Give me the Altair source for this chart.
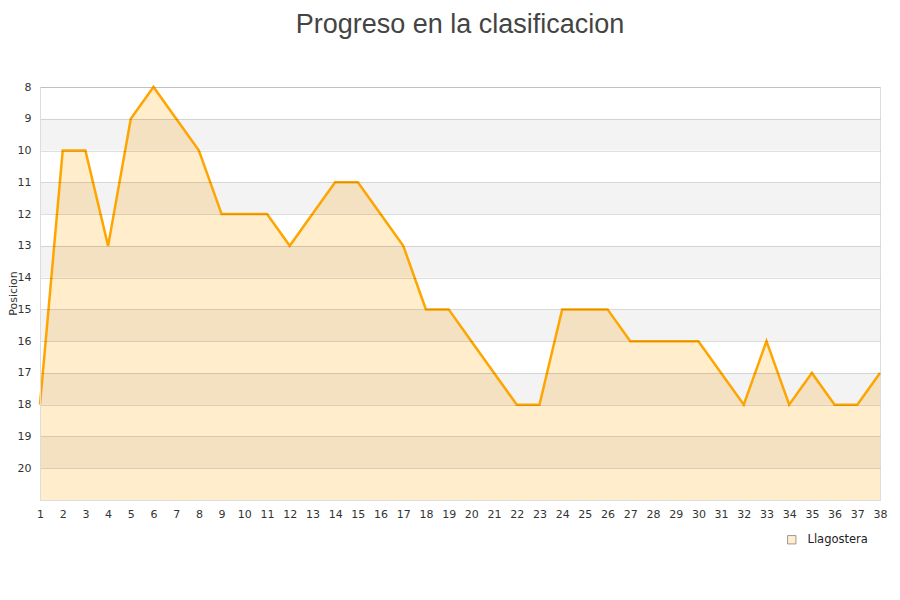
import altair as alt
import pandas as pd

jornadas = list(range(1, 39))
posiciones = [18, 10, 10, 13, 9, 8, 9, 10, 12, 12, 12, 13, 12, 11, 11, 12, 13, 15, 15, 16,
              17, 18, 18, 15, 15, 15, 16, 16, 16, 16, 17, 18, 16, 18, 17, 18, 18, 17]
equipo = "Llagostera"
band_starts = [9, 11, 13, 15, 17, 19]
y_ticks = list(range(8, 21))

df = pd.DataFrame({"Jornada": jornadas, "Posicion": posiciones, "Equipo": [equipo] * len(jornadas)})
bands = pd.DataFrame({"y1": band_starts, "y2": [b + 1 for b in band_starts]})

xscale = alt.Scale(domain=[1, 38], nice=False, zero=False)
yscale = alt.Scale(domain=[8, 21], reverse=True, nice=False, zero=False)

xaxis = alt.Axis(values=jornadas, title=None, grid=False, ticks=False, labelFontSize=11,
                 labelColor="#333", labelFont="DejaVu Sans", domainColor="#dddddd",
                 labelPadding=8, labelFlush=False, labelOverlap=False)
yaxis = alt.Axis(values=y_ticks, title="Posicion", grid=True, gridColor="#000000", gridOpacity=0.13,
                 ticks=False, labelFontSize=11, labelColor="#333", labelFont="DejaVu Sans",
                 domainColor="#dddddd", labelPadding=9, labelOverlap=False,
                 titleFontSize=11, titleColor="#333",
                 titleFont="DejaVu Sans", titleFontWeight="normal", titleX=-22, titleY=206,
                 zindex=1)

X = alt.X("Jornada:Q", scale=xscale, axis=xaxis)
Y = alt.Y("Posicion:Q", scale=yscale, axis=yaxis)

area = alt.Chart(df).mark_area(opacity=1, interpolate="linear").encode(
    x=X,
    y=Y,
    y2=alt.datum(21),
    fill=alt.Fill("Equipo:N", scale=alt.Scale(range=["#FFEDCC"]),
                  legend=alt.Legend(title=None, orient="none", legendX=746, legendY=447,
                                    symbolType="square", symbolSize=70, labelOffset=10,
                                    symbolStrokeColor="#999999", symbolStrokeWidth=1,
                                    labelFontSize=11.5, labelColor="#222", labelFont="DejaVu Sans")),
)

band = alt.Chart(bands).mark_rect(color="#000000", opacity=0.048).encode(
    x=alt.value(0), x2=alt.value(840),
    y=alt.Y("y1:Q", scale=yscale, axis=yaxis),
    y2="y2:Q",
)

line = alt.Chart(df).mark_line(color="#FFA500", strokeWidth=2.5).encode(
    x=X,
    y=Y,
)

chart = alt.layer(area, band, line).properties(
    width=840, height=413,
    autosize=alt.AutoSizeParams(type="none"),
    padding={"left": 32, "top": 79, "right": 12, "bottom": 90},
    title=alt.TitleParams("Progreso en la clasificacion", fontSize=27, color="#444444",
                          font="Liberation Sans", fontWeight="normal", anchor="middle",
                          baseline="alphabetic", offset=21),
).configure_view(stroke="#dddddd")

chart.save("out.html", embed_options={"renderer": "svg", "actions": False})
